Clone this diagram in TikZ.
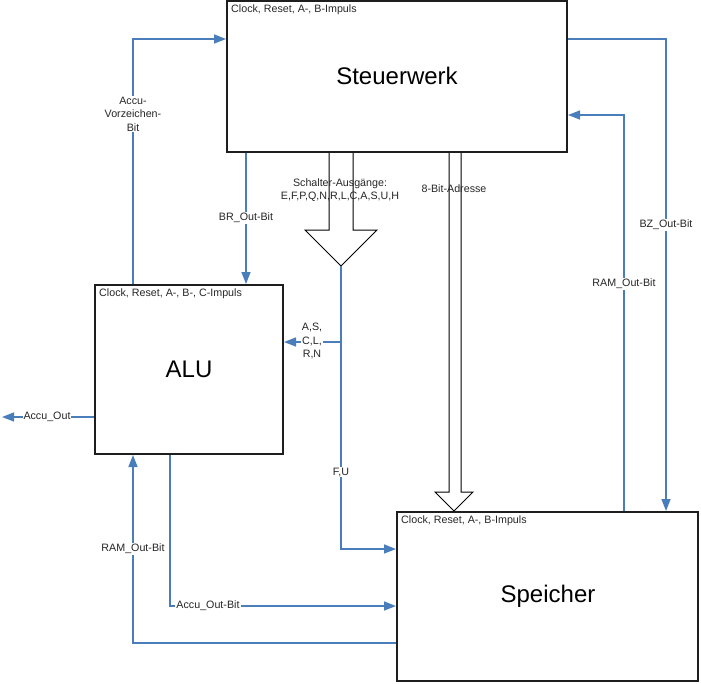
\documentclass[tikz,border=0pt]{standalone}
\usepackage{fontspec}
\setmainfont{Liberation Sans}
\usetikzlibrary{arrows.meta,calc}
\definecolor{sigblue}{HTML}{4A7EBB}
\definecolor{boxline}{HTML}{1E1E1E}
\tikzset{
  unitbox/.style={draw=boxline,line width=2pt,inner sep=0pt},
  sig/.style={draw=sigblue,line width=1.5pt,-{Triangle[length=12pt,width=9pt]}},
  sigplain/.style={draw=sigblue,line width=1.5pt},
  lbl/.style={font=\fontsize{10.7}{13.5}\selectfont,inner sep=1pt,align=center,text=black!85},
  lblw/.style={lbl,fill=white},
  big/.style={font=\fontsize{24}{28}\selectfont},
  bus/.style={draw=black,line width=1pt,fill=white,line join=miter},
}
\begin{document}
\begin{tikzpicture}[x=1pt,y=-1pt]
\useasboundingbox (0,0) rectangle (701,683);
% boxes
\node[unitbox,minimum width=340pt,minimum height=151pt] (steu) at (397,76.5) {};
\node[unitbox,minimum width=188pt,minimum height=169pt] (alu) at (189,369.5) {};
\node[unitbox,minimum width=301pt,minimum height=169pt] (spei) at (547.5,596.5) {};
\node[big] (steut) at (397,76) {Steuerwerk};
\node[big] (alut) at (189,369) {ALU};
\node[big] (speit) at (548,596) {Speicher};
\node[lbl,anchor=west] (steuc) at (230,10) {Clock, Reset, A-, B-Impuls};
\node[lbl,anchor=west] (aluc) at (98,294) {Clock, Reset, A-, B-, C-Impuls};
\node[lbl,anchor=west] (speic) at (400,521) {Clock, Reset, A-, B-Impuls};
% Accu-Vorzeichen-Bit
\draw[sig] (133,0 |- alu.north) |- (steu.west |- 0,39);
\node[lblw] (l1) at (133,114) {Accu-\\Vorzeichen-\\Bit};
% BZ_Out-Bit
\draw[sig] (steu.east |- 0,39) -| (666,0 |- spei.north);
\node[lblw] (l2) at (666,225) {BZ\_Out-Bit};
% RAM_Out-Bit (right)
\draw[sig] (624,0 |- spei.north) |- (steu.east |- 0,115);
\node[lblw] (l3) at (624,284) {RAM\_Out-Bit};
% BR_Out-Bit
\draw[sig] (246,0 |- steu.south) -- (246,0 |- alu.north);
\node[lblw] (l4) at (246,218) {BR\_Out-Bit};
% Schalter bus arrow
\draw[bus] (329,0 |- steu.south) -- (329,230) -- (305,230) -- (341,266) -- (377,230) -- (353,230) -- (353,0 |- steu.south);
\coordinate (tip1) at (341,266);
\coordinate (br1) at (341,342);
\node[lbl] (l5) at (340,190) {Schalter-Ausgänge:\\E,F,P,Q,N,R,L,C,A,S,U,H};
\draw[sig] (tip1) |- (spei.west |- 0,549);
\draw[sig] (br1) -- (alu.east |- br1);
\node[lblw] (l6) at (312,341) {A,S,\\C,L,\\R,N};
\node[lblw] (l7) at (341,472) {F,U};
% 8-Bit-Adresse bus arrow
\draw[bus] (449,0 |- steu.south) -- (449,492) -- (435,492) -- (454,0 |- spei.north) -- (473,492) -- (461,492) -- (461,0 |- steu.south);
\node[lbl] (l8) at (454,189) {8-Bit-Adresse};
% Accu_Out
\coordinate (aout) at (2,417);
\draw[sig] (alu.west |- aout) -- (aout);
\node[lblw] (l9) at (47,417) {Accu\_Out};
% RAM_Out-Bit (left)
\draw[sig] (spei.west |- 0,643) -| (133,0 |- alu.south);
\node[lblw] (l10) at (133,549) {RAM\_Out-Bit};
% Accu_Out-Bit
\draw[sig] (170,0 |- alu.south) |- (spei.west |- 0,606);
\node[lblw] (l11) at (208,606) {Accu\_Out-Bit};
\end{tikzpicture}
\end{document}
